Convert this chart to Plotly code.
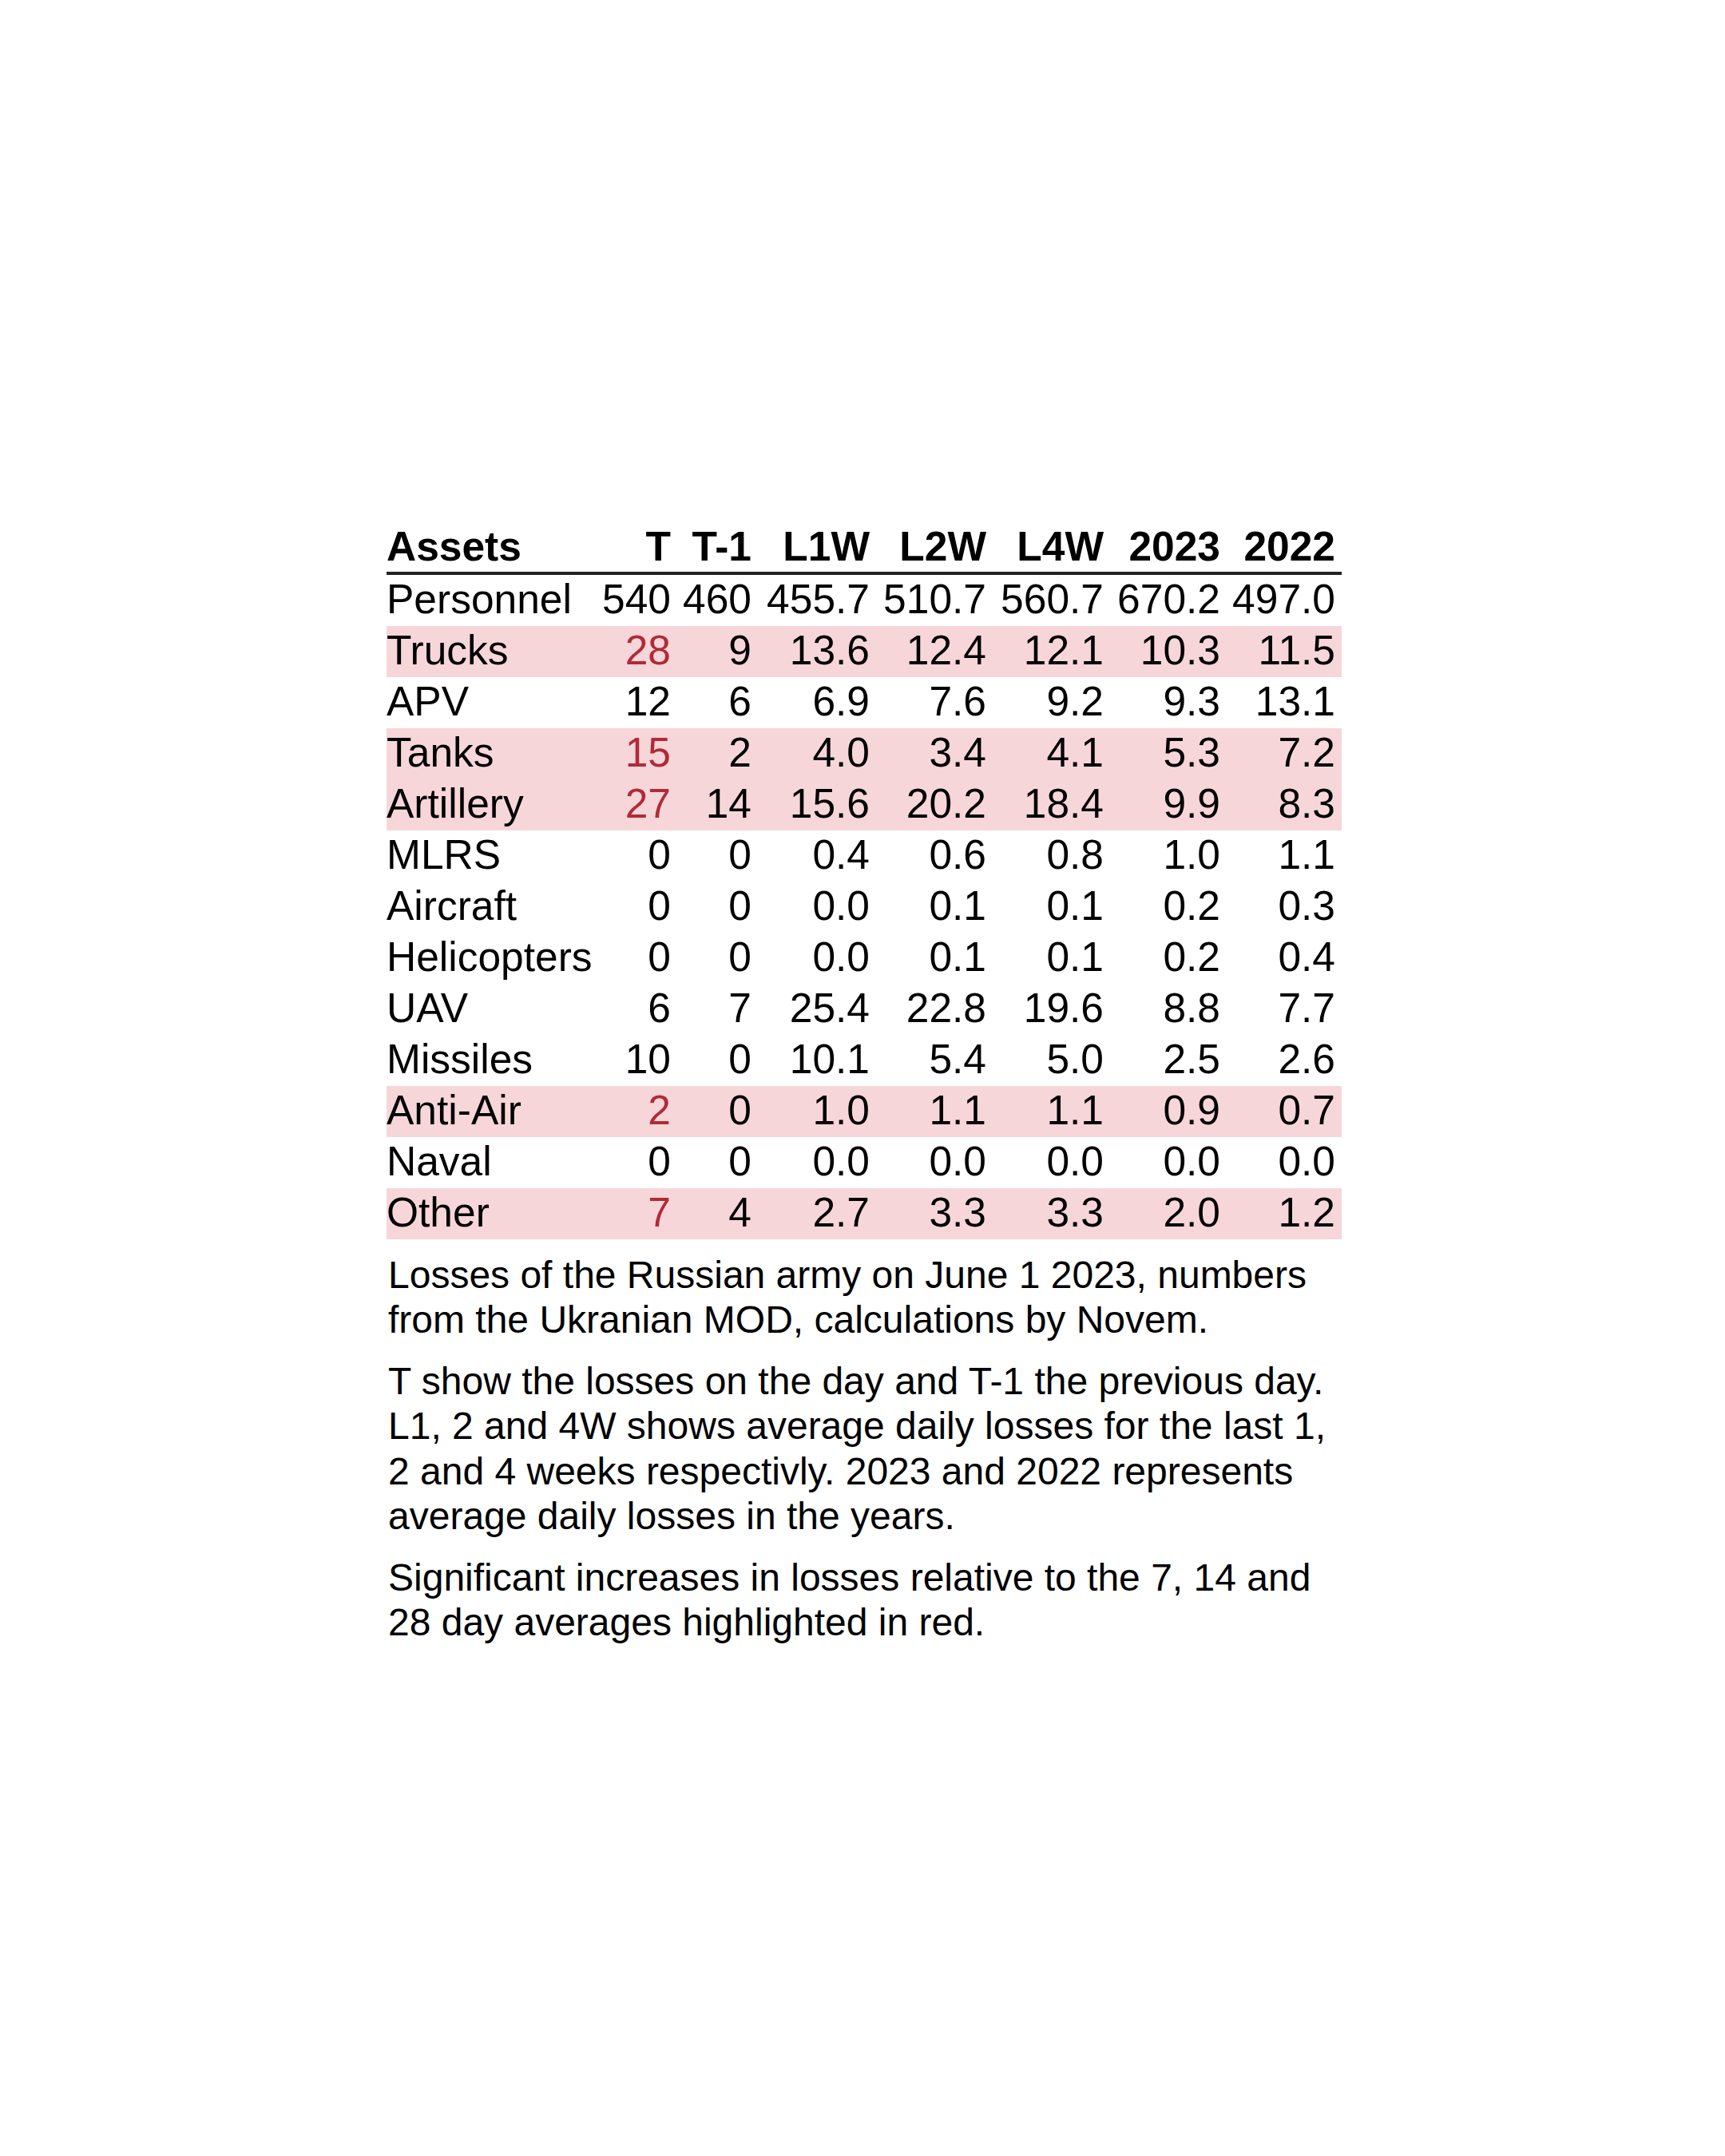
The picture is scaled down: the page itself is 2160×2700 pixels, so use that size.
import plotly.graph_objects as go

# table content
assets = ["Personnel", "Trucks", "APV", "Tanks", "Artillery", "MLRS", "Aircraft",
          "Helicopters", "UAV", "Missiles", "Anti-Air", "Naval", "Other"]
columns = ["T", "T-1", "L1W", "L2W", "L4W", "2023", "2022"]

t_today = [540, 28, 12, 15, 27, 0, 0, 0, 6, 10, 2, 0, 7]
t_prev = [460, 9, 6, 2, 14, 0, 0, 0, 7, 0, 0, 0, 4]
last_1w = [455.7, 13.6, 6.9, 4.0, 15.6, 0.4, 0.0, 0.0, 25.4, 10.1, 1.0, 0.0, 2.7]
last_2w = [510.7, 12.4, 7.6, 3.4, 20.2, 0.6, 0.1, 0.1, 22.8, 5.4, 1.1, 0.0, 3.3]
last_4w = [560.7, 12.1, 9.2, 4.1, 18.4, 0.8, 0.1, 0.1, 19.6, 5.0, 1.1, 0.0, 3.3]
avg_2023 = [670.2, 10.3, 9.3, 5.3, 9.9, 1.0, 0.2, 0.2, 8.8, 2.5, 0.9, 0.0, 2.0]
avg_2022 = [497.0, 11.5, 13.1, 7.2, 8.3, 1.1, 0.3, 0.4, 7.7, 2.6, 0.7, 0.0, 1.2]

# rows with a significant increase (shaded, T value in red)
highlighted = ["Trucks", "Tanks", "Artillery", "Anti-Air", "Other"]

caption = [
    ["Losses of the Russian army on June 1 2023, numbers",
     "from the Ukranian MOD, calculations by Novem."],
    ["T show the losses on the day and T-1 the previous day.",
     "L1, 2 and 4W shows average daily losses for the last 1,",
     "2 and 4 weeks respectivly. 2023 and 2022 represents",
     "average daily losses in the years."],
    ["Significant increases in losses relative to the 7, 14 and",
     "28 day averages highlighted in red."],
]

# layout (pixels; the page body adds an 8px offset)
W, H = 2160, 2700
FONT = "Liberation Sans, Arial, sans-serif"
FS = 51.5
LEFT, RIGHT = 476, 1672
TEXT_LEFT = 476
COL_RIGHT = [832, 933, 1081, 1227, 1374, 1520, 1664]
ROW0, ROW_H = 744, 64       # first row centre, row pitch
TEXT_DY = 0.05              # nudge text down inside its row
HEADER_Y = -0.98            # in row units
RULE_Y = -0.53
RED = "#B22A36"
PINK = "#F7D6DA"

values = [t_today, t_prev, last_1w, last_2w, last_4w, avg_2023, avg_2022]
fmts = ["{:.0f}", "{:.0f}", "{:.1f}", "{:.1f}", "{:.1f}", "{:.1f}", "{:.1f}"]
rows = list(range(len(assets)))
text_rows = [r + TEXT_DY for r in rows]

fig = go.Figure()

# shaded rows
for i, a in enumerate(assets):
    if a in highlighted:
        fig.add_shape(type="rect", xref="x", yref="y", x0=LEFT, x1=RIGHT,
                      y0=i - 0.5, y1=i + 0.5, fillcolor=PINK, line_width=0,
                      layer="below")

# header rule
fig.add_shape(type="line", xref="x", yref="y", x0=LEFT, x1=RIGHT,
              y0=RULE_Y, y1=RULE_Y, line=dict(color="#222222", width=4))

# asset names
fig.add_trace(go.Scatter(
    x=[TEXT_LEFT] * len(assets), y=text_rows, text=assets, mode="text",
    textposition="middle right", textfont=dict(family=FONT, size=FS, color="black"),
    hoverinfo="skip", showlegend=False))
fig.add_trace(go.Scatter(
    x=[TEXT_LEFT], y=[HEADER_Y], text=["<b>Assets</b>"], mode="text",
    textposition="middle right", textfont=dict(family=FONT, size=FS, color="black"),
    hoverinfo="skip", showlegend=False))

# value columns
for j, col in enumerate(columns):
    colors = ["black"] * len(assets)
    if j == 0:
        colors = [RED if a in highlighted else "black" for a in assets]
    fig.add_trace(go.Scatter(
        x=[COL_RIGHT[j]] * len(assets), y=text_rows,
        text=[fmts[j].format(v) for v in values[j]], mode="text",
        textposition="middle left", textfont=dict(family=FONT, size=FS, color=colors),
        hoverinfo="skip", showlegend=False))
    fig.add_trace(go.Scatter(
        x=[COL_RIGHT[j]], y=[HEADER_Y], text=["<b>" + col + "</b>"], mode="text",
        textposition="middle left", textfont=dict(family=FONT, size=FS, color="black"),
        hoverinfo="skip", showlegend=False))

# caption lines
y = 1588
for p, para in enumerate(caption):
    for k, line in enumerate(para):
        fig.add_annotation(x=TEXT_LEFT, y=1 - y / H, xref="x", yref="paper",
                           text=line, showarrow=False, xanchor="left",
                           yanchor="middle",
                           font=dict(family=FONT, size=48, color="black"))
        y += 56.5
    y += 20

fig.update_layout(
    width=W, height=H,
    margin=dict(l=0, r=0, t=0, b=0),
    plot_bgcolor="white", paper_bgcolor="white",
    xaxis=dict(range=[0, W], visible=False, fixedrange=True),
    yaxis=dict(range=[(H - ROW0) / ROW_H, -ROW0 / ROW_H], visible=False,
               fixedrange=True),
)

fig.write_html("out.html")
